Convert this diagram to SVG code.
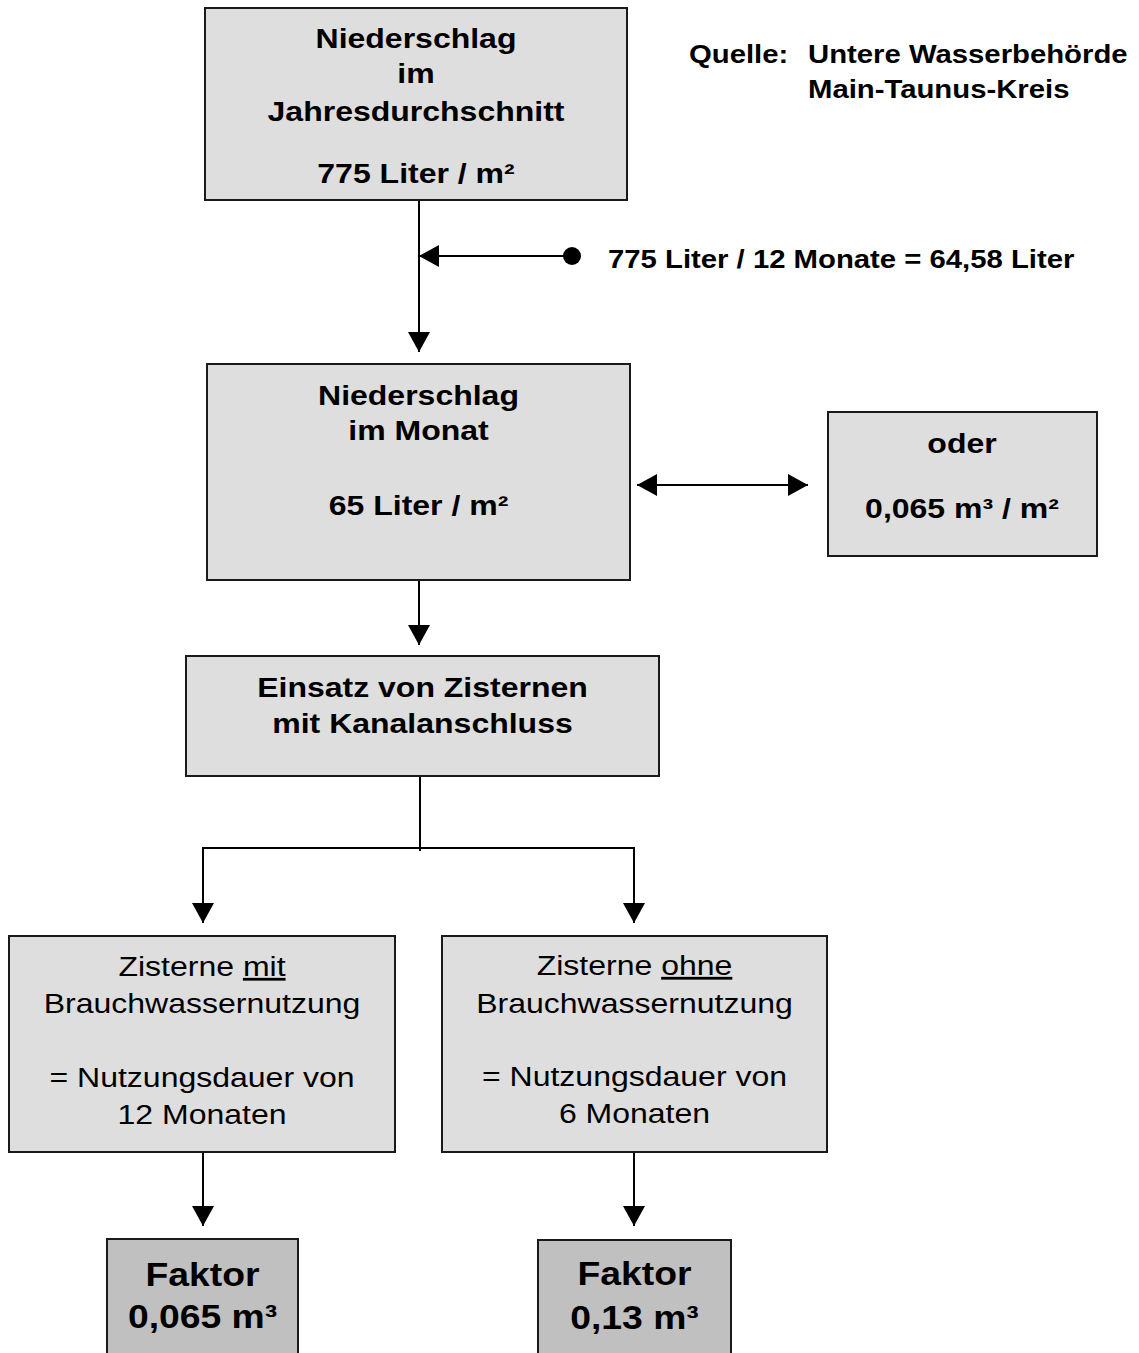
<svg xmlns="http://www.w3.org/2000/svg" width="1139" height="1353" viewBox="0 0 1139 1353">
<defs>
<style>
.box{fill:#dedede;stroke:#1a1a1a;stroke-width:2}
.fbox{fill:#c0c0c0;stroke:#1a1a1a;stroke-width:2}
.b{font-family:"Liberation Sans",Arial,sans-serif;font-weight:bold;font-size:32px;fill:#000;text-anchor:middle}
.r{font-family:"Liberation Sans",Arial,sans-serif;font-size:32px;fill:#000;text-anchor:middle}
.s{font-family:"Liberation Sans",Arial,sans-serif;font-weight:bold;font-size:29.3px;fill:#000}
.f{font-family:"Liberation Sans",Arial,sans-serif;font-weight:bold;font-size:37.3px;fill:#000;text-anchor:middle}
.u{text-decoration:underline}
.c{fill:none;stroke:#000;stroke-width:2}
</style>
<marker id="arr" markerUnits="userSpaceOnUse" markerWidth="20" markerHeight="22" refX="20" refY="11" orient="auto-start-reverse" viewBox="0 0 20 22">
<path d="M0,0 L20,11 L0,22 Z" fill="#000"/>
</marker>
<marker id="dot" markerUnits="userSpaceOnUse" markerWidth="20" markerHeight="20" refX="10" refY="10" viewBox="0 0 20 20">
<circle cx="10" cy="10" r="9" fill="#000"/>
</marker>
</defs>
<rect width="1139" height="1353" fill="#fff"/>

<g id="connectors">
<path class="c" d="M419,200 V352" marker-end="url(#arr)"/>
<path class="c" d="M572,256 H419" marker-start="url(#dot)" marker-end="url(#arr)"/>
<path class="c" d="M637,485 H808" marker-start="url(#arr)" marker-end="url(#arr)"/>
<path class="c" d="M419,580 V645" marker-end="url(#arr)"/>
<path class="c" d="M420,776 V851"/>
<path class="c" d="M203,848 H634"/>
<path class="c" d="M203,847 V923" marker-end="url(#arr)"/>
<path class="c" d="M634,847 V923" marker-end="url(#arr)"/>
<path class="c" d="M203,1152 V1226" marker-end="url(#arr)"/>
<path class="c" d="M634,1152 V1226" marker-end="url(#arr)"/>
</g>

<g id="source">
<text class="s" transform="translate(689 63) scale(1 .87)">Quelle:</text>
<text class="s" transform="translate(808 63) scale(1 .87)">Untere Wasserbehörde</text>
<text class="s" transform="translate(808 98) scale(1 .87)">Main-Taunus-Kreis</text>
</g>

<g id="calc">
<text class="s" transform="translate(608 268) scale(1 .87)">775 Liter / 12 Monate = 64,58 Liter</text>
</g>

<g id="n-jahr">
<rect class="box" x="205" y="8" width="422" height="192"/>
<text class="b" transform="translate(416 48) scale(1 .87)">Niederschlag</text>
<text class="b" transform="translate(416 83) scale(1 .87)">im</text>
<text class="b" transform="translate(416 121) scale(1 .87)">Jahresdurchschnitt</text>
<text class="b" transform="translate(416 183) scale(1 .87)">775 Liter / m²</text>
</g>

<g id="n-monat">
<rect class="box" x="207" y="364" width="423" height="216"/>
<text class="b" transform="translate(418.5 405) scale(1 .87)">Niederschlag</text>
<text class="b" transform="translate(418.5 440) scale(1 .87)">im Monat</text>
<text class="b" transform="translate(418.5 515) scale(1 .87)">65 Liter / m²</text>
</g>

<g id="n-oder">
<rect class="box" x="828" y="412" width="269" height="144"/>
<text class="b" transform="translate(962 453) scale(1 .87)">oder</text>
<text class="b" transform="translate(962 518) scale(1 .87)">0,065 m³ / m²</text>
</g>

<g id="n-einsatz">
<rect class="box" x="186" y="656" width="473" height="120"/>
<text class="b" transform="translate(422.5 697) scale(1 .87)">Einsatz von Zisternen</text>
<text class="b" transform="translate(422.5 733) scale(1 .87)">mit Kanalanschluss</text>
</g>

<g id="n-mit">
<rect class="box" x="9" y="936" width="386" height="216"/>
<text class="r" transform="translate(202 976) scale(1 .87)">Zisterne <tspan class="u">mit</tspan></text>
<text class="r" transform="translate(202 1013) scale(1 .87)">Brauchwassernutzung</text>
<text class="r" transform="translate(202 1087) scale(1 .87)">= Nutzungsdauer von</text>
<text class="r" transform="translate(202 1124) scale(1 .87)">12 Monaten</text>
</g>

<g id="n-ohne">
<rect class="box" x="442" y="936" width="385" height="216"/>
<text class="r" transform="translate(634.5 975) scale(1 .87)">Zisterne <tspan class="u">ohne</tspan></text>
<text class="r" transform="translate(634.5 1013) scale(1 .87)">Brauchwassernutzung</text>
<text class="r" transform="translate(634.5 1086) scale(1 .87)">= Nutzungsdauer von</text>
<text class="r" transform="translate(634.5 1123) scale(1 .87)">6 Monaten</text>
</g>

<g id="n-faktor1">
<rect class="fbox" x="107" y="1239" width="191" height="130"/>
<text class="f" transform="translate(202.5 1286) scale(1 .87)">Faktor</text>
<text class="f" transform="translate(202.5 1328) scale(1 .87)">0,065 m³</text>
</g>

<g id="n-faktor2">
<rect class="fbox" x="538" y="1240" width="193" height="130"/>
<text class="f" transform="translate(634.5 1285) scale(1 .87)">Faktor</text>
<text class="f" transform="translate(634.5 1329) scale(1 .87)">0,13 m³</text>
</g>
</svg>
